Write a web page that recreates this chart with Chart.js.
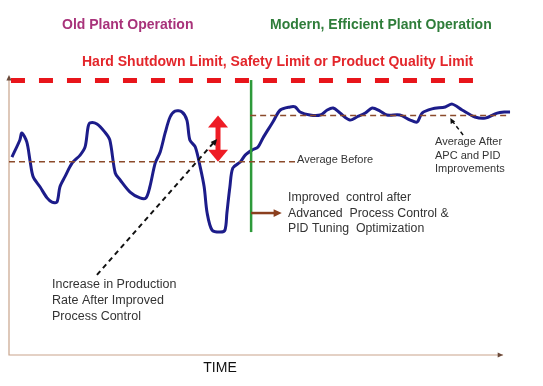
<!DOCTYPE html>
<html>
<head>
<meta charset="utf-8">
<script src="https://cdn.jsdelivr.net/npm/chart.js@4/dist/chart.umd.min.js"></script>
<style>
  html, body { margin: 0; padding: 0; background: #fff; }
  #wrap { width: 543px; height: 386px; }
</style>
</head>
<body>
<div id="wrap"><canvas id="myChart" width="543" height="386"></canvas></div>
<script>
// process value over time
const time = [0.6, 2.2, 2.6, 3.6, 4.3, 4.9, 6.3, 7.7, 8.7, 9.7, 10.3, 11.3, 12.8, 14.4, 15.4, 16, 16.4, 17.8, 19.4, 20.4,
  21.5, 22.5, 24.5, 26.5, 27.7, 28.5, 29.6, 30.6, 31.6, 32.6, 33.6, 35, 36, 36.6, 37.7, 38.7, 39.5, 40.1, 41.1, 42.7,
  43.7, 44.1, 44.7, 45.3, 46.8, 47.8, 49.2, 50.4, 51.4, 52.4, 53.4, 54.9, 56.9, 57.9, 58.9, 60.9, 63, 64.4, 65.6, 67,
  69, 70.4, 72.1, 73.5, 75.1, 76.5, 79.1, 81.2, 82.6, 83.6, 85.6, 88.3, 89.7, 91.7, 94.3, 96.4, 98.8, 100.4, 101.4];
const value = [70.7, 76.8, 79.3, 76.1, 68.9, 63.6, 60, 56.1, 54.6, 54.6, 60, 63.6, 68.6, 71.4, 74.3, 81.4, 82.9, 82.5, 79.6, 76.8,
  65, 62.5, 58.2, 56.1, 56.1, 60, 68.6, 72.5, 79.3, 85, 87.1, 86.8, 83.9, 76.8, 74.3, 67.1, 60, 50.7, 44.6, 43.9,
  44.6, 50.7, 60, 66.8, 68.9, 71.4, 73.2, 74.3, 77.5, 80.4, 83.2, 87.5, 88.6, 88.6, 86.8, 85.7, 85.7, 87.5, 88.2, 86.4,
  83.9, 85, 86.4, 88.2, 87.1, 85.7, 85.7, 83.9, 83.2, 86.4, 87.9, 88.6, 89.6, 87.5, 85, 84.6, 86.4, 86.8, 86.8];

const limitValue = 98;        // hard shutdown limit
const limitRange = [0.4, 95.7];
const avgBefore = 69;
const avgBeforeRange = [0, 58];
const avgAfter = 85.5;
const avgAfterRange = [48.8, 101.4];
const changeTime = 49;        // switch to APC / PID tuning
const changeRange = [43.9, 98.2];

const font = "'Liberation Sans', Arial, sans-serif";

function xy(xs, ys) { return xs.map((x, i) => ({ x: x, y: ys[i] })); }

function arrowHead(ctx, x1, y1, x2, y2, size, color) {
  const a = Math.atan2(y2 - y1, x2 - x1);
  ctx.save();
  ctx.fillStyle = color;
  ctx.beginPath();
  ctx.moveTo(x2, y2);
  ctx.lineTo(x2 - size * Math.cos(a - 0.45), y2 - size * Math.sin(a - 0.45));
  ctx.lineTo(x2 - size * Math.cos(a + 0.45), y2 - size * Math.sin(a + 0.45));
  ctx.closePath();
  ctx.fill();
  ctx.restore();
}

const decor = {
  id: 'decor',
  beforeDatasetsDraw(chart) {
    const ctx = chart.ctx, a = chart.chartArea;
    const xs = chart.scales.x;
    // axes
    ctx.save();
    ctx.strokeStyle = '#c9a48c';
    ctx.lineWidth = 1.2;
    ctx.beginPath();
    ctx.moveTo(a.left, a.top + 3);
    ctx.lineTo(a.left, a.bottom);
    ctx.lineTo(xs.getPixelForValue(100), a.bottom);
    ctx.stroke();
    arrowHead(ctx, a.left, a.top + 8, a.left, a.top, 6, '#6b4a3a');
    arrowHead(ctx, xs.getPixelForValue(100) - 8, a.bottom, xs.getPixelForValue(100), a.bottom, 6, '#6b4a3a');
    ctx.restore();
  },
  afterDatasetsDraw(chart) {
    const ctx = chart.ctx;
    const xs = chart.scales.x, ys = chart.scales.y;
    const px = v => xs.getPixelForValue(v), py = v => ys.getPixelForValue(v);
    ctx.save();

    // red double arrow between the two averages
    const rx = px(42.3), top = py(avgAfter), bot = py(avgBefore);
    ctx.strokeStyle = '#ee1c25';
    ctx.lineWidth = 5;
    ctx.beginPath();
    ctx.moveTo(rx, top + 10); ctx.lineTo(rx, bot - 10); ctx.stroke();
    ctx.fillStyle = '#ee1c25';
    ctx.beginPath();
    ctx.moveTo(rx, top); ctx.lineTo(rx + 10, top + 12); ctx.lineTo(rx - 10, top + 12); ctx.closePath(); ctx.fill();
    ctx.beginPath();
    ctx.moveTo(rx, bot); ctx.lineTo(rx + 10, bot - 12); ctx.lineTo(rx - 10, bot - 12); ctx.closePath(); ctx.fill();

    // black dashed pointer to the red arrow
    ctx.strokeStyle = '#111';
    ctx.lineWidth = 2;
    ctx.setLineDash([5, 4]);
    ctx.beginPath();
    ctx.moveTo(px(17.8), py(28.6)); ctx.lineTo(px(41.6), py(76.2)); ctx.stroke();
    ctx.setLineDash([]);
    arrowHead(ctx, px(41.3), py(75.4), px(42.1), py(77.1), 7, '#111');

    // pointer to average after
    ctx.lineWidth = 1.5;
    ctx.setLineDash([4, 3]);
    ctx.beginPath();
    ctx.moveTo(px(91.9), py(78.6)); ctx.lineTo(px(89.7), py(83.6)); ctx.stroke();
    ctx.setLineDash([]);
    arrowHead(ctx, px(89.7), py(83.4), px(89.3), py(84.6), 6, '#111');

    // brown arrow from the change line
    ctx.strokeStyle = '#8b3f1e';
    ctx.lineWidth = 2.5;
    ctx.beginPath();
    ctx.moveTo(px(changeTime), py(50.7)); ctx.lineTo(px(54), py(50.7)); ctx.stroke();
    arrowHead(ctx, px(53), py(50.7), px(55.2), py(50.7), 9, '#8b3f1e');

    // texts
    ctx.textBaseline = 'middle';
    ctx.textAlign = 'left';
    ctx.font = 'bold 14px ' + font;
    ctx.fillStyle = '#a8327a';
    ctx.fillText('Old Plant Operation', 62, 25);
    ctx.fillStyle = '#2f7d3a';
    ctx.fillText('Modern, Efficient Plant Operation', 270, 25);
    ctx.fillStyle = '#e3262b';
    ctx.fillText('Hard Shutdown Limit, Safety Limit or Product Quality Limit', 82, 62);

    ctx.fillStyle = '#333';
    ctx.font = '11px ' + font;
    ctx.fillText('Average Before', 297, 160);
    ctx.fillText('Average After', 435, 142);
    ctx.fillText('APC and PID', 435, 156);
    ctx.fillText('Improvements', 435, 169);

    ctx.font = '12.3px ' + font;
    ctx.fillText('Improved  control after', 288, 198);
    ctx.fillText('Advanced  Process Control &', 288, 214);
    ctx.fillText('PID Tuning  Optimization', 288, 229);

    ctx.font = '12.5px ' + font;
    ctx.fillText('Increase in Production', 52, 285);
    ctx.fillText('Rate After Improved', 52, 301);
    ctx.fillText('Process Control', 52, 317);

    ctx.fillStyle = '#111';
    ctx.font = '14px ' + font;
    ctx.textAlign = 'center';
    ctx.fillText('TIME', 220, 368);
    ctx.restore();
  }
};

new Chart(document.getElementById('myChart').getContext('2d'), {
  type: 'line',
  data: {
    datasets: [
      {
        label: 'Limit',
        data: xy(limitRange, [limitValue, limitValue]),
        borderColor: '#e8151b',
        borderWidth: 5,
        borderDash: [14, 14],
        pointRadius: 0
      },
      {
        label: 'Average before',
        data: xy(avgBeforeRange, [avgBefore, avgBefore]),
        borderColor: '#8b4a2b',
        borderWidth: 1.5,
        borderDash: [6, 4],
        pointRadius: 0
      },
      {
        label: 'Average after',
        data: xy(avgAfterRange, [avgAfter, avgAfter]),
        borderColor: '#8b4a2b',
        borderWidth: 1.5,
        borderDash: [6, 4],
        pointRadius: 0
      },
      {
        label: 'Change',
        data: xy([changeTime, changeTime], changeRange),
        borderColor: '#2e9a3a',
        borderWidth: 2.5,
        pointRadius: 0
      },
      {
        label: 'Process',
        data: xy(time, value),
        borderColor: '#1c1c8a',
        borderWidth: 3,
        tension: 0.3,
        pointRadius: 0
      }
    ]
  },
  options: {
    responsive: false,
    animation: false,
    layout: { padding: { left: 9, right: 30, top: 75, bottom: 31 } },
    scales: {
      x: { type: 'linear', min: 0, max: 102, display: false },
      y: { min: 0, max: 100, display: false }
    },
    plugins: {
      legend: { display: false },
      tooltip: { enabled: false }
    }
  },
  plugins: [decor]
});
</script>
</body>
</html>
